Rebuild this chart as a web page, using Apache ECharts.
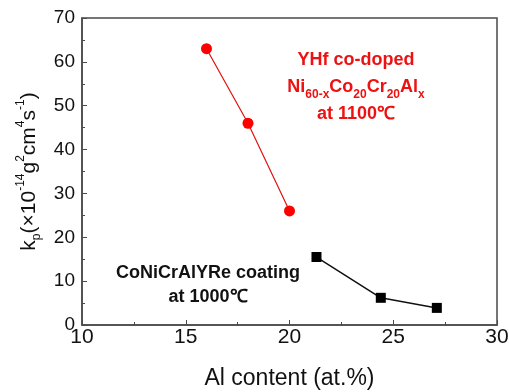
<!DOCTYPE html>
<html>
<head>
<meta charset="utf-8">
<script src="https://cdn.jsdelivr.net/npm/echarts@6/dist/echarts.min.js"></script>
<style>
  html, body { margin: 0; padding: 0; background: #fff; }
  #chart { width: 509px; height: 392px; }
</style>
</head>
<body>
<div id="chart"></div>
<script>
// 数据
var yhfAl = [16, 18, 20];
var yhfKp = [63, 46, 26];
var coatAl = [21.3, 24.4, 27.1];
var coatKp = [15.5, 6.2, 3.9];

var xTicks = [10, 15, 20, 25, 30];
var yTicks = [0, 10, 20, 30, 40, 50, 60, 70];

function pairs(xs, ys){
	var arr = [];
	for(var i=0; i<xs.length; i++){
		arr.push([xs[i], ys[i]]);
	}
	return arr;
}

var font = '"Liberation Sans", Arial, sans-serif';
var axisColor = '#4a4a4a';

var myChart = echarts.init(document.getElementById('chart'));
var option = {
	backgroundColor: '#fff',
	animation: false,
	grid: {left: 82, right: 12, top: 18, bottom: 67, outerBoundsMode: 'none', show: true, borderColor: axisColor, borderWidth: 1.5, backgroundColor: 'transparent'},
	xAxis: {
		type: 'value', min: xTicks[0], max: xTicks[xTicks.length-1], interval: 5,
		name: 'Al content (at.%)', nameLocation: 'middle', nameGap: 42,
		nameTextStyle: {fontFamily: font, fontSize: 23, color: '#111'},
		axisLine: {lineStyle: {color: axisColor, width: 1.5}},
		axisTick: {inside: true, length: 5, lineStyle: {color: axisColor}},
		minorTick: {show: true, splitNumber: 2, length: 3, lineStyle: {color: axisColor}},
		axisLabel: {fontFamily: font, fontSize: 21, color: '#111', margin: 2},
		splitLine: {show: false}
	},
	yAxis: {
		type: 'value', min: yTicks[0], max: yTicks[yTicks.length-1], interval: 10,
		name: '{t|k}{sub|p}{t|(×10}{sup|-14}{t|g}{sup|2}{t|cm}{sup|4}{t|s}{sup|-1}{t|)}',
		nameLocation: 'middle', nameGap: 39, nameRotate: 90,
		nameTextStyle: {
			fontFamily: font, color: '#111',
			rich: {
				t: {fontFamily: font, fontSize: 21, color: '#111', lineHeight: 28, verticalAlign: 'middle'},
				sup: {fontFamily: font, fontSize: 12, color: '#111', lineHeight: 28, verticalAlign: 'top'},
				sub: {fontFamily: font, fontSize: 12, color: '#111', lineHeight: 28, verticalAlign: 'bottom'}
			}
		},
		axisLine: {lineStyle: {color: axisColor, width: 1.5}},
		axisTick: {inside: true, length: 5, lineStyle: {color: axisColor}},
		minorTick: {show: true, splitNumber: 2, length: 3, lineStyle: {color: axisColor}},
		axisLabel: {fontFamily: font, fontSize: 19, color: '#111', margin: 7},
		splitLine: {show: false}
	},
	series: [
		{
			name: 'YHf co-doped', type: 'line', data: pairs(yhfAl, yhfKp),
			symbol: 'circle', symbolSize: 11,
			itemStyle: {color: '#f00'},
			lineStyle: {color: '#e31010', width: 1.2}
		},
		{
			name: 'CoNiCrAlYRe', type: 'line', data: pairs(coatAl, coatKp),
			symbol: 'rect', symbolSize: 10,
			itemStyle: {color: '#000'},
			lineStyle: {color: '#111', width: 1.5}
		}
	],
	graphic: [
		{
			type: 'text', x: 356, y: 47,
			style: {
				text: '{b|YHf co-doped}\n{b|Ni}{s|60-x}{b|Co}{s|20}{b|Cr}{s|20}{b|Al}{s|x}\n{b|at 1100℃}',
				align: 'center', verticalAlign: 'top', fill: '#ee1111',
				rich: {
					b: {fontFamily: font, fontSize: 18, fontWeight: 'bold', fill: '#ee1111', lineHeight: 26, verticalAlign: 'middle'},
					s: {fontFamily: font, fontSize: 12, fontWeight: 'bold', fill: '#ee1111', lineHeight: 28, verticalAlign: 'bottom'}
				}
			}
		},
		{
			type: 'text', x: 208, y: 261,
			style: {
				text: 'CoNiCrAlYRe coating\nat 1000℃',
				align: 'center', verticalAlign: 'top', fill: '#111',
				font: 'bold 18px ' + font, lineHeight: 24
			}
		}
	]
};
myChart.setOption(option);
</script>
</body>
</html>
